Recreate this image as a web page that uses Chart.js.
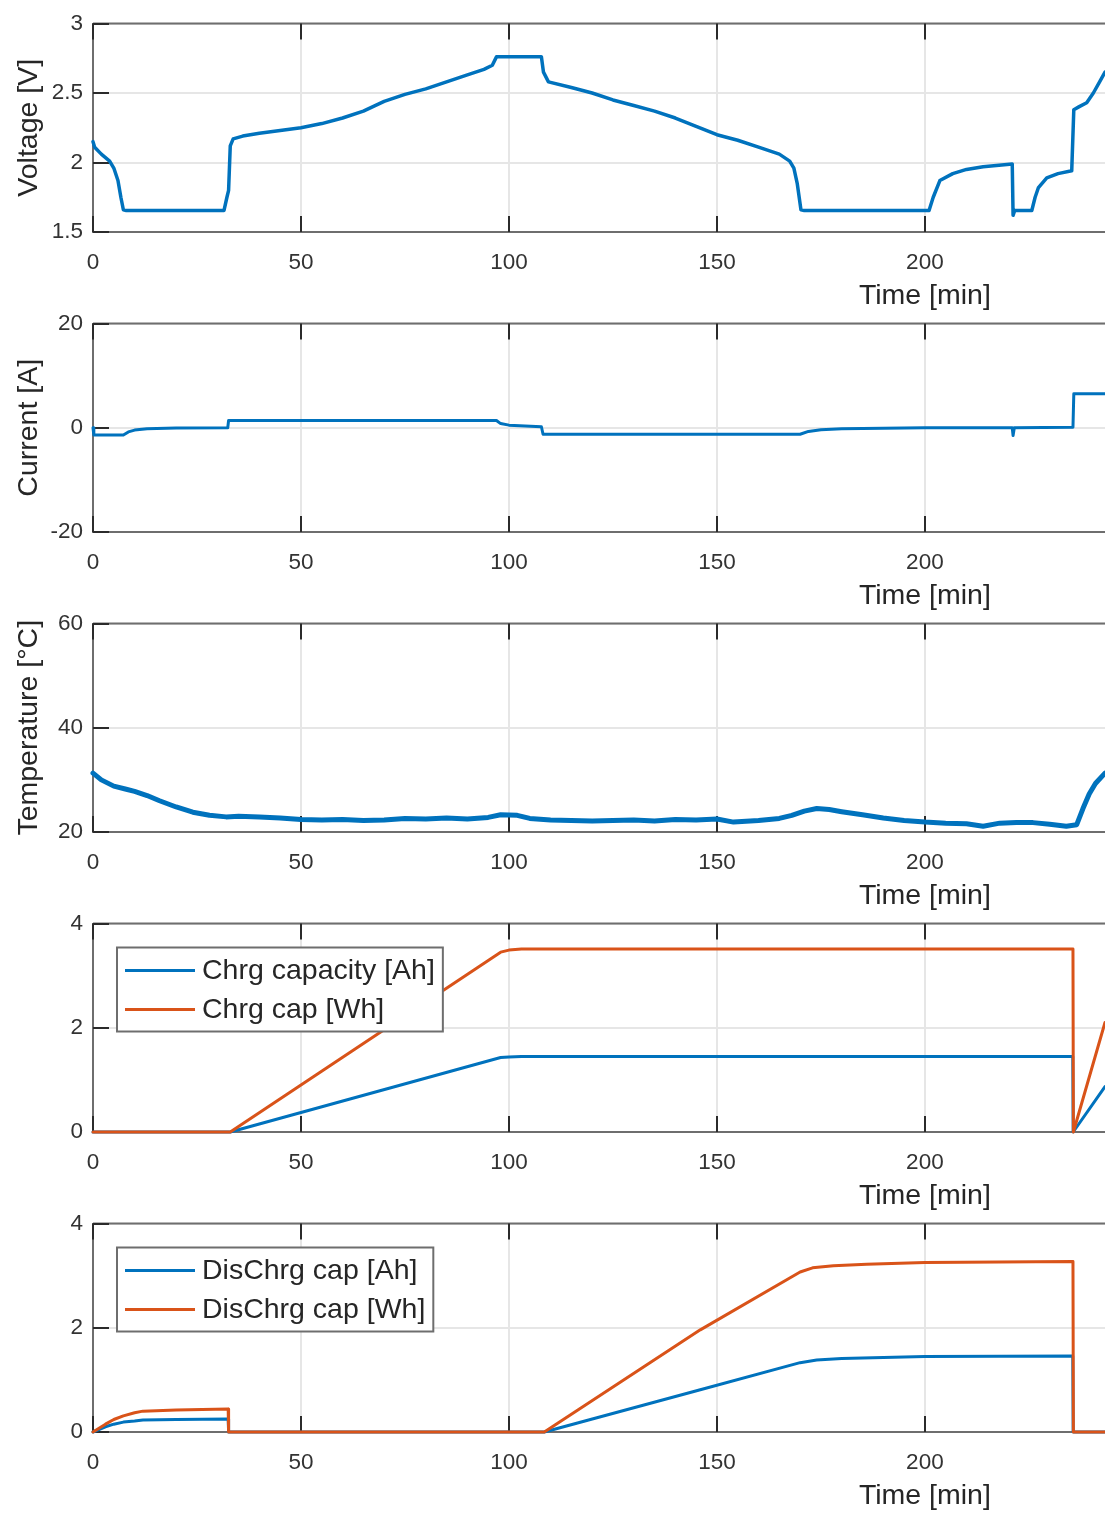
<!DOCTYPE html>
<html>
<head>
<meta charset="utf-8">
<title>Cell test log</title>
<script src="https://cdn.jsdelivr.net/npm/chart.js@4.4.1/dist/chart.umd.min.js"></script>
<style>
  html, body { margin: 0; padding: 0; background: #fff; overflow: hidden; }
  body { position: relative; width: 1105px; height: 1515px; }
  canvas { display: block; position: absolute; left: 0; }
</style>
</head>
<body>
<canvas id="voltageChart" width="1105" height="320" style="top:0px"></canvas>
<canvas id="currentChart" width="1105" height="320" style="top:300px"></canvas>
<canvas id="tempChart" width="1105" height="320" style="top:600px"></canvas>
<canvas id="chargeChart" width="1105" height="320" style="top:900px"></canvas>
<canvas id="dischargeChart" width="1105" height="315" style="top:1200px"></canvas>
<script>
// ---- data ----
const xTicks = [0, 50, 100, 150, 200];
const xMax = 243.3;

const voltTime = [0, 0.4, 2, 4, 5, 6, 6.7, 7.3, 8, 31.5, 32.2, 32.6, 33, 33.7, 36, 40, 45, 50, 55, 60, 65, 70, 75, 80, 85, 90, 94, 96, 97,
  107.8, 108.3, 109.5, 115, 120, 125, 130, 135, 140, 145, 150, 155, 160, 165, 167.5, 168.5, 169.3, 170.2, 171, 201, 202, 203.6, 206.7,
  210, 214, 221, 221.2, 221.6, 225.7, 226.5, 227.3, 229.3, 232, 235.3, 235.8, 237, 238.9, 240.5, 242, 243.3];
const voltage = [2.15, 2.11, 2.06, 2.01, 1.96, 1.87, 1.75, 1.66, 1.655, 1.655, 1.75, 1.8, 2.12, 2.17, 2.19, 2.21, 2.23, 2.25, 2.28, 2.32, 2.37, 2.44, 2.49, 2.53, 2.58, 2.63, 2.67, 2.7, 2.76,
  2.76, 2.65, 2.58, 2.54, 2.5, 2.45, 2.41, 2.37, 2.32, 2.26, 2.2, 2.16, 2.11, 2.06, 2.01, 1.96, 1.85, 1.66, 1.655, 1.655, 1.75, 1.87, 1.92,
  1.95, 1.97, 1.99, 1.62, 1.655, 1.655, 1.75, 1.82, 1.89, 1.92, 1.94, 2.38, 2.4, 2.43, 2.5, 2.58, 2.65];
const voltTicks = [1.5, 2, 2.5, 3];

const currTime = [0, 0.2, 7.3, 8.5, 10, 13, 20, 32.4, 32.6, 97, 98, 100, 107.8, 108.2, 170, 172, 175, 180, 200, 221, 221.2, 221.5, 235.6, 235.8, 243.3];
const current = [0, -1.4, -1.4, -0.8, -0.45, -0.2, -0.05, 0, 1.4, 1.4, 0.8, 0.5, 0.2, -1.25, -1.25, -0.7, -0.4, -0.2, 0, 0, -1.5, 0, 0.1, 6.5, 6.5];
const currTicks = [-20, 0, 20];

const tempTime = [0, 2, 5, 8, 10, 13, 16, 20, 24, 28, 32, 35, 40, 45, 50, 55, 60, 65, 70, 75, 80, 85, 90, 95, 98, 102, 105, 110, 115, 120,
  125, 130, 135, 140, 145, 150, 154, 160, 165, 168, 171, 174, 177, 180, 185, 190, 195, 200, 205, 210, 214, 218, 222, 226, 230, 234,
  236.5, 238, 239.5, 241, 243.3];
const temperature = [31.3, 30, 28.8, 28.2, 27.8, 27, 26, 24.8, 23.8, 23.2, 22.9, 23, 22.9, 22.7, 22.4, 22.3, 22.4, 22.2, 22.3, 22.6, 22.5, 22.7, 22.5, 22.8, 23.3, 23.2, 22.6, 22.3, 22.2, 22.1,
  22.2, 22.3, 22.1, 22.4, 22.3, 22.5, 21.9, 22.2, 22.6, 23.2, 24, 24.5, 24.3, 23.9, 23.3, 22.7, 22.2, 21.9, 21.7, 21.6, 21.1, 21.7, 21.8, 21.8, 21.5, 21.1,
  21.4, 24.5, 27.3, 29.3, 31.3];
const tempTicks = [20, 40, 60];

const chgAhTime = [0, 33, 98, 100, 103, 235.55, 235.65, 243.3];
const chgAh = [0, 0, 1.43, 1.44, 1.45, 1.45, 0, 0.87];
const chgWhTime = [0, 33, 98, 100, 103, 235.6, 235.7, 243.3];
const chgWh = [0, 0, 3.45, 3.49, 3.51, 3.51, 0, 2.1];

const disAhTime = [0, 3, 5, 7.3, 10, 12, 20, 32.5, 32.6, 108.5, 146, 170, 174, 180, 200, 235.55, 235.65, 243.3];
const disAh = [0, 0.1, 0.15, 0.19, 0.21, 0.23, 0.24, 0.25, 0, 0, 0.81, 1.33, 1.38, 1.41, 1.45, 1.46, 0, 0];
const disWhTime = [0, 3, 5, 7.3, 10, 12, 20, 32.5, 32.6, 108.5, 146, 170, 173, 178, 186, 200, 235.6, 235.7, 243.3];
const disWh = [0, 0.15, 0.24, 0.31, 0.37, 0.4, 0.42, 0.44, 0, 0, 1.96, 3.07, 3.15, 3.19, 3.22, 3.25, 3.27, 0, 0];
const capTicks = [0, 2, 4];

// ---- look ----
const FONT = "'Liberation Sans', Arial, sans-serif";
const BLUE = '#0072bd';
const ORANGE = '#d95319';
const TEXT = '#333333';
const GRID = '#e6e6e6';
const FRAME = '#6e6e6e';
const PLOT_LEFT = 93, PLOT_TOP = 19, PLOT_H = 213, TICK_LEN = 16;
const LABEL_SIZE = 28.5, TICK_SIZE = 22.5;

function points(xs, ys) {
  return xs.map((x, i) => ({ x: x, y: ys[i] }));
}

// MATLAB-ish box: top edge, inward ticks, x label, boxed legend
const matlabFrame = {
  id: 'matlabFrame',
  beforeDatasetsDraw(chart) {
    const { ctx, chartArea: a, scales } = chart;
    ctx.save();
    ctx.lineWidth = 2;
    ctx.strokeStyle = FRAME;
    ctx.beginPath();
    ctx.moveTo(a.left, a.top);
    ctx.lineTo(a.right, a.top);
    ctx.stroke();
    ctx.strokeStyle = '#2b2b2b';
    ctx.beginPath();
    scales.x.ticks.forEach(t => {
      const px = Math.round(scales.x.getPixelForValue(t.value));
      ctx.moveTo(px, a.bottom); ctx.lineTo(px, a.bottom - TICK_LEN);
      ctx.moveTo(px, a.top); ctx.lineTo(px, a.top + TICK_LEN);
    });
    scales.y.ticks.forEach(t => {
      const py = Math.round(scales.y.getPixelForValue(t.value));
      ctx.moveTo(a.left, py); ctx.lineTo(a.left + TICK_LEN, py);
    });
    ctx.stroke();
    ctx.restore();
  },
  afterDraw(chart, args, opts) {
    const { ctx, chartArea: a, scales } = chart;
    ctx.save();
    ctx.fillStyle = '#262626';
    ctx.font = LABEL_SIZE + 'px ' + FONT;
    ctx.textAlign = 'center';
    ctx.textBaseline = 'middle';
    ctx.fillText('Time [min]', scales.x.getPixelForValue(200), a.bottom + 64);

    if (opts.legend) {
      const sets = chart.data.datasets;
      const lx = a.left + 24, ly = a.top + 24;
      const w = 85 + Math.max(...sets.map(d => ctx.measureText(d.label).width)) + 8;
      const h = 84;
      ctx.fillStyle = '#fff';
      ctx.fillRect(lx, ly, w, h);
      ctx.strokeStyle = FRAME;
      ctx.lineWidth = 2;
      ctx.strokeRect(lx, ly, w, h);
      sets.forEach((d, i) => {
        const cy = ly + 23 + i * 39;
        ctx.strokeStyle = d.borderColor;
        ctx.lineWidth = 3;
        ctx.beginPath();
        ctx.moveTo(lx + 8, cy);
        ctx.lineTo(lx + 78, cy);
        ctx.stroke();
        ctx.fillStyle = '#262626';
        ctx.textAlign = 'left';
        ctx.fillText(d.label, lx + 85, cy + 1);
      });
    }
    ctx.restore();
  }
};

function makePanel(id, datasets, yLabel, yMin, yMax, yTicks, legend) {
  const ctx = document.getElementById(id).getContext('2d');
  return new Chart(ctx, {
    type: 'line',
    data: { datasets: datasets },
    options: {
      responsive: false,
      animation: false,
      devicePixelRatio: 1,
      layout: { padding: { top: PLOT_TOP, left: 0, right: 0, bottom: 0 } },
      elements: { point: { radius: 0 }, line: { tension: 0, borderJoinStyle: 'round', borderCapStyle: 'round' } },
      plugins: {
        legend: { display: false },
        tooltip: { enabled: false },
        matlabFrame: { legend: legend }
      },
      scales: {
        x: {
          type: 'linear',
          min: 0,
          max: xMax,
          afterBuildTicks: s => { s.ticks = xTicks.map(v => ({ value: v })); },
          afterFit: s => { s.height = s.chart.height - PLOT_TOP - PLOT_H; },
          grid: { color: GRID, lineWidth: 2, drawTicks: false },
          border: { color: FRAME, width: 2 },
          ticks: { padding: 17, color: TEXT, maxRotation: 0, autoSkip: false, font: { family: FONT, size: TICK_SIZE } }
        },
        y: {
          min: yMin,
          max: yMax,
          afterBuildTicks: s => { s.ticks = yTicks.map(v => ({ value: v })); },
          afterFit: s => { s.width = PLOT_LEFT; },
          grid: { color: GRID, lineWidth: 2, drawTicks: false },
          border: { color: FRAME, width: 2 },
          ticks: { padding: 10, color: TEXT, font: { family: FONT, size: TICK_SIZE }, callback: v => String(v) },
          title: { display: true, text: yLabel, color: '#262626', font: { family: FONT, size: LABEL_SIZE }, padding: { top: 12, bottom: 0 } }
        }
      }
    },
    plugins: [matlabFrame]
  });
}

const edgeClip = { left: 4, top: 4, right: 0, bottom: 4 };

makePanel('voltageChart', [
  { label: 'Voltage', data: points(voltTime, voltage), borderColor: BLUE, borderWidth: 3.5, clip: edgeClip }
], 'Voltage [V]', 1.5, 3, voltTicks, false);

makePanel('currentChart', [
  { label: 'Current', data: points(currTime, current), borderColor: BLUE, borderWidth: 3, clip: edgeClip }
], 'Current [A]', -20, 20, currTicks, false);

makePanel('tempChart', [
  { label: 'Temperature', data: points(tempTime, temperature), borderColor: BLUE, borderWidth: 5, clip: edgeClip }
], 'Temperature [°C]', 20, 60, tempTicks, false);

makePanel('chargeChart', [
  { label: 'Chrg capacity [Ah]', data: points(chgAhTime, chgAh), borderColor: BLUE, borderWidth: 3, order: 1, clip: edgeClip },
  { label: 'Chrg cap [Wh]', data: points(chgWhTime, chgWh), borderColor: ORANGE, borderWidth: 3, order: 0, clip: edgeClip }
], '', 0, 4, capTicks, true);

makePanel('dischargeChart', [
  { label: 'DisChrg cap [Ah]', data: points(disAhTime, disAh), borderColor: BLUE, borderWidth: 3, order: 1, clip: edgeClip },
  { label: 'DisChrg cap [Wh]', data: points(disWhTime, disWh), borderColor: ORANGE, borderWidth: 3, order: 0, clip: edgeClip }
], '', 0, 4, capTicks, true);
</script>
</body>
</html>
